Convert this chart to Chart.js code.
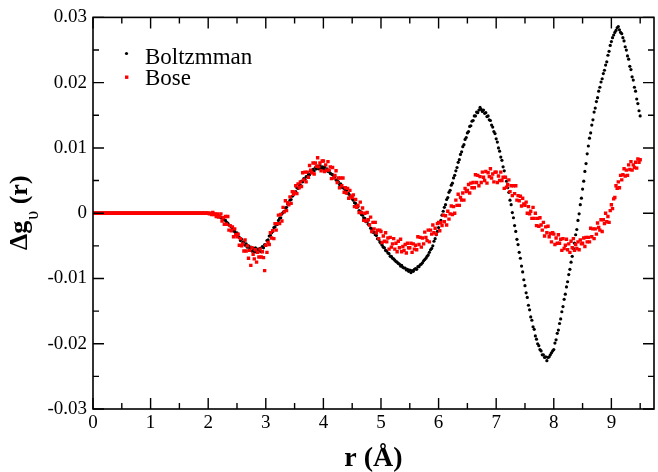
<!DOCTYPE html>
<html>
<head>
<meta charset="utf-8">
<script src="https://cdn.jsdelivr.net/npm/chart.js@4/dist/chart.umd.min.js"></script>
<style>
  html, body { margin: 0; padding: 0; background: #fff; }
  #wrap { width: 658px; height: 472px; }
</style>
</head>
<body>
<div id="wrap"><canvas id="c" width="658" height="472"></canvas></div>
<script>
// r grid: one sample every 0.02 Å starting at r = 0
const R_STEP = 0.02;
// Δg values below are listed in units of 1e-3
const Y_UNIT = 1e-3;

const seriesNames = ['Boltzmman', 'Bose'];

const boltzmann = [
  0,0,0,0,0,0,0,0,0,0,0,0,0,0,0,0,0,0,0,0,0,0,0,0,0,
  0,0,0,0,0,0,0,0,0,0,0,0,0,0,0,0,0,0,0,0,0,0,0,0,0,
  0,0,0,0,0,0,0,0,0,0,0,0,0,0,0,0,0,0,0,0,0,0,0,0,0,
  0,0,0,0,0,0,0,0,0,0,0,0,0,0,0,0,0,0,0,0,0,0,0,0,0,
  0,-0.02,-0.03,-0.05,-0.08, -0.1,-0.2,-0.2,-0.35,-0.4, -0.5,-0.7,-0.7,-0.95,-1.0, -1.1,-1.4,-1.5,-1.8,-1.9, -2.1,-2.2,-2.7,-2.8,-3.1,
  -3.0,-3.6,-3.7,-4.2,-4.0, -4.5,-4.4,-4.9,-4.7,-5.2, -5.0,-5.5,-5.2,-5.8,-5.4, -5.9,-5.3,-6.0,-5.5,-5.8, -5.4,-5.9,-5.1,-5.3,-4.8,
  -4.9,-4.2,-4.1,-3.5,-3.4, -3.0,-2.8,-2.2,-2.1,-1.7, -1.7,-1.1,-0.8,-0.7,-0.1, 0.1,0.3,0.8,0.9,1.4, 1.4,2.0,2.1,2.6,2.8,
  3.2,3.3,3.9,3.8,4.4, 4.3,4.9,4.8,5.3,5.2, 5.6,5.6,6.0,5.9,6.4, 6.2,6.7,6.5,7.0,6.8, 7.2,6.8,7.3,6.9,7.1,
  6.8,7.1,6.6,6.8,6.4, 6.5,6.1,6.0,5.9,5.5, 5.6,5.1,5.0,4.8,4.4, 4.5,4.0,3.9,3.8,3.4, 3.5,3.0,3.0,2.7,2.6,
  2.2,2.0,1.6,1.5,1.0, 1.0,0.4,0.3,-0.2,-0.3, -0.7,-0.8,-1.3,-1.3,-1.7, -1.8,-2.3,-2.4,-2.9,-2.9, -3.3,-3.4,-3.9,-4.0,-4.4,
  -4.6,-4.9,-5.2,-5.3,-5.7, -5.8,-6.1,-6.2,-6.6,-6.6, -6.9,-7.0,-7.2,-7.4,-7.5, -7.7,-7.8,-8.1,-8.0,-8.3, -8.4,-8.4,-8.7,-8.6,-8.9,
  -8.7,-9.1,-8.8,-8.9,-8.6, -8.5,-8.6,-8.2,-8.2,-7.9, -7.8,-7.6,-7.3,-7.1,-6.9, -6.6,-6.4,-6.0,-5.6,-5.4, -5.0,-4.3,-3.9,-3.3,-2.8,
  -2.2,-1.5,-1.1,-0.3,0.3, 0.9,1.3,2.1,2.4,3.2, 3.5,4.3,4.6,5.4,5.8, 6.5,7.0,7.8,8.2,9.0, 9.4,10.2,10.5,11.3,11.6,
  12.3,12.5,13.3,13.4,14.1, 14.2,14.9,14.9,15.5,15.4, 15.8,16.2,15.9,15.6,15.8, 15.3,15.4,14.8,14.9,14.3, 14.2,13.5,13.2,12.5,12.2,
  11.4,10.9,10.0,9.5,8.6, 8.1,7.1,6.5,5.5,4.9, 3.9,3.2,2.0,1.3,0.1, -0.7,-1.9,-2.8,-4.0,-4.8, -6.0,-6.9,-8.1,-9.0,-10.2,
  -11.1,-12.2,-12.9,-14.1,-14.8, -15.9,-16.4,-17.4,-17.8,-18.8, -19.3,-20.0,-20.3,-20.9,-21.1, -21.7,-21.7,-22.1,-22.0,-22.6, -22.1,-22.0,-21.7,-21.4,-21.1,
  -20.9,-19.9,-19.4,-18.4,-17.9, -16.9,-16.2,-15.1,-14.3,-13.2, -12.4,-11.3,-10.5,-9.4,-8.6, -7.5,-6.6,-5.4,-4.6,-3.3, -2.5,-1.1,-0.1,1.3,2.3,
  3.7,4.9,6.4,7.6,9.1, 10.3,11.5,12.3,13.5,14.3, 15.5,16.1,17.1,17.7,18.7, 19.3,20.1,20.6,21.4,21.9, 22.7,23.2,24.2,24.8,25.7,
  26.3,26.9,27.3,27.7,28.0, 28.4,28.6,28.1,27.7,27.5, 26.9,26.4,25.5,25.0,24.1, 23.6,22.5,22.0,20.9,20.4, 19.3,18.7,17.5,16.8,15.7,
  14.9
];

const bose = [
  0,0,0,0,0,0,0,0,0,0,0,0,0,0,0,0,0,0,0,0,0,0,0,0,0,
  0,0,0,0,0,0,0,0,0,0,0,0,0,0,0,0,0,0,0,0,0,0,0,0,0,
  0,0,0,0,0,0,0,0,0,0,0,0,0,0,0,0,0,0,0,0,0,0,0,0,0,
  0,0,0,0,0,0,0,0,0,0,0,0,0,0,0,0,0,0,0,0,0,0,0,0,0,
  0,-0.1,0,-0.2,0.1, -0.2,-0.1,-0.5,-0.1,-0.6, -0.5,-0.1,-1.2,-0.7,-1.7, -0.5,-1.7,-0.5,-2.6,-1.9, -2.7,-2.1,-3.6,-2.4,-3.3,
  -3.6,-3.2,-4.9,-3.9,-5.0, -4.7,-5.8,-4.1,-5.8,-5.0, -6.9,-5.7,-8.0,-5.3,-6.3, -7.0,-5.6,-7.5,-6.0,-6.7, -5.5,-6.7,-5.9,-6.8,-8.8,
  -4.9,-6.0,-4.5,-4.8,-3.0, -3.8,-2.7,-3.9,-1.6,-2.6, -1.6,-0.3,-1.6,-0.2,-1.2, 0.9,0.2,1.9,0.4,1.6, 1.3,2.5,1.5,3.3,2.9,
  3.2,4.2,3.0,4.5,3.9, 4.8,4.1,6.2,5.1,6.3, 4.8,6.3,5.5,7.3,6.6, 6.2,7.7,6.0,7.7,7.2, 8.5,7.1,7.7,6.5,8.0,
  8.0,6.4,7.4,6.6,7.9, 6.6,7.1,5.3,7.0,5.4, 5.8,6.5,4.7,5.4,3.9, 5.4,4.2,5.4,3.2,3.9, 3.1,3.8,2.3,3.5,2.6,
  2.4,2.8,1.0,2.1,0.9, 1.2,0.1,1.7,0.1,0.8, -1.1,0.0,-1.2,0.1,-1.0, -1.8,-0.6,-2.8,-1.4,-2.4, -1.4,-3.0,-2.6,-3.9,-2.6,
  -2.8,-4.5,-3.5,-4.3,-3.0, -4.4,-3.8,-5.5,-3.7,-5.2, -4.7,-3.9,-5.5,-4.6,-5.9, -4.3,-5.3,-4.0,-5.9,-5.1, -5.7,-4.8,-6.1,-4.6,-5.3,
  -5.3,-4.6,-6.0,-4.7,-5.5, -4.9,-5.6,-3.6,-4.8,-3.7, -5.2,-3.8,-4.7,-2.9,-3.7, -4.2,-2.6,-4.4,-2.6,-3.2, -1.8,-3.0,-2.3,-3.2,-1.6,
  -1.4,-2.7,-1.4,-1.9,-0.3, -1.3,-0.4,-1.8,0.3,-0.9, -0.1,1.1,-0.2,1.0,0.0, 2.0,1.2,2.9,1.2,2.4, 2.0,3.1,2.0,3.8,3.3,
  3.5,4.4,3.1,4.6,3.9, 4.7,3.9,5.9,4.7,5.8, 4.2,5.6,4.7,6.3,5.5, 5.0,6.4,4.6,6.2,5.6, 6.8,5.4,6.0,4.8,6.3,
  6.3,4.7,5.7,5.0,6.3, 5.0,5.5,3.8,5.5,4.0, 4.4,5.1,3.3,4.2,2.7, 4.2,3.0,4.2,2.0,2.7, 1.9,2.6,1.1,2.3,1.4,
  1.2,1.7,0.0,1.0,-0.1, 0.3,-0.8,0.9,-0.8,0.0, -1.9,-0.8,-2.0,-0.7,-1.8, -2.6,-1.4,-3.5,-2.1,-3.0, -2.0,-3.6,-3.1,-4.4,-3.0,
  -3.2,-4.8,-3.8,-4.6,-3.3, -4.6,-4.0,-5.7,-3.9,-5.4, -4.9,-4.0,-5.6,-4.7,-6.0, -4.3,-5.3,-3.9,-5.7,-4.8, -5.4,-4.4,-5.6,-4.1,-4.7,
  -4.6,-3.8,-5.1,-3.7,-4.4, -3.7,-4.4,-2.3,-3.6,-2.4, -3.9,-2.4,-3.2,-1.5,-2.2, -2.6,-1.0,-2.8,-1.0,-1.6, 0.0,-1.3,-0.5,-1.4,0.4,
  1.3,0.7,2.2,2.4,4.2, 3.8,4.8,3.9,5.8,5.1, 5.9,6.8,5.7,6.6,5.8, 7.4,6.7,7.9,6.6,7.4, 7.0,7.8,6.9,8.3,7.8,
  8.2
];

// axis ticks
const xMajorTicks = [0, 1, 2, 3, 4, 5, 6, 7, 8, 9];
const xMinorTicks = [0.5, 1.5, 2.5, 3.5, 4.5, 5.5, 6.5, 7.5, 8.5, 9.5];
const yMajorTicks = [-0.03, -0.02, -0.01, 0, 0.01, 0.02, 0.03];
const yMinorTicks = [-0.025, -0.015, -0.005, 0.005, 0.015, 0.025];

const SERIF = "'Liberation Serif', 'Times New Roman', serif";

const toPoints = arr => arr.map((v, i) => ({ x: i * R_STEP, y: v * Y_UNIT }));

// frame on all four sides with inward-pointing ticks
const frameTicks = {
  id: 'frameTicks',
  afterDatasetsDraw(chart) {
    const { ctx, chartArea: a, scales: { x, y } } = chart;
    ctx.save();
    ctx.strokeStyle = '#000';
    ctx.lineWidth = 1.6;
    ctx.strokeRect(a.left, a.top, a.right - a.left, a.bottom - a.top);
    ctx.lineWidth = 1.4;
    ctx.beginPath();
    const xt = (vals, len) => vals.forEach(v => {
      const px = x.getPixelForValue(v);
      if (px < a.left - 0.5 || px > a.right + 0.5) return;
      ctx.moveTo(px, a.bottom); ctx.lineTo(px, a.bottom - len);
      ctx.moveTo(px, a.top); ctx.lineTo(px, a.top + len);
    });
    const yt = (vals, len) => vals.forEach(v => {
      const py = y.getPixelForValue(v);
      ctx.moveTo(a.left, py); ctx.lineTo(a.left + len, py);
      ctx.moveTo(a.right, py); ctx.lineTo(a.right - len, py);
    });
    xt(xMajorTicks, 11); xt(xMinorTicks, 6);
    yt(yMajorTicks, 11); yt(yMinorTicks, 6);
    ctx.stroke();
    ctx.restore();
  }
};

// axis titles and legend
const annotations = {
  id: 'annotations',
  afterDraw(chart) {
    const { ctx, chartArea: a } = chart;
    ctx.save();
    ctx.fillStyle = '#000';
    ctx.textBaseline = 'alphabetic';

    // x title
    ctx.font = 'bold 28px ' + SERIF;
    ctx.textAlign = 'center';
    ctx.fillText('r (Å)', (a.left + a.right) / 2, 466);

    // y title, rotated, with subscript
    ctx.translate(27, 250);
    ctx.rotate(-Math.PI / 2);
    ctx.textAlign = 'left';
    ctx.font = 'bold 26px ' + SERIF;
    const main = 'Δg';
    ctx.fillText(main, 0, 0);
    let off = ctx.measureText(main).width + 1;
    ctx.font = '18px ' + SERIF;
    ctx.fillText('υ', off, 11);
    off += ctx.measureText('υ').width;
    ctx.font = 'bold 26px ' + SERIF;
    ctx.fillText(' (r)', off, 0);
    ctx.setTransform(1, 0, 0, 1, 0, 0);

    // legend
    ctx.font = '23px ' + SERIF;
    ctx.textAlign = 'left';
    ctx.fillStyle = '#000';
    ctx.beginPath(); ctx.arc(126.5, 53.5, 1.6, 0, Math.PI * 2); ctx.fill();
    ctx.fillText(seriesNames[0], 145, 63.5);
    ctx.fillStyle = '#ff0000';
    ctx.fillRect(125, 75.5, 3.4, 3.4);
    ctx.fillStyle = '#000';
    ctx.fillText(seriesNames[1], 145, 84.5);
    ctx.restore();
  }
};

new Chart(document.getElementById('c'), {
  type: 'scatter',
  data: {
    datasets: [
      {
        label: seriesNames[0],
        data: toPoints(boltzmann),
        pointStyle: 'circle',
        pointRadius: 1.6,
        pointBorderWidth: 0,
        backgroundColor: '#000',
        borderColor: '#000',
        order: 1
      },
      {
        label: seriesNames[1],
        data: toPoints(bose),
        pointStyle: 'rect',
        pointRadius: 2.4,
        pointBorderWidth: 0,
        backgroundColor: '#ff0000',
        borderColor: '#ff0000',
        order: 0
      }
    ]
  },
  options: {
    responsive: false,
    devicePixelRatio: 1,
    animation: false,
    events: [],
    layout: { padding: { top: 12, right: 1, left: 0, bottom: 0 } },
    plugins: { legend: { display: false }, tooltip: { enabled: false } },
    scales: {
      x: {
        type: 'linear',
        min: 0,
        max: 9.74,
        afterBuildTicks: s => { s.ticks = xMajorTicks.map(v => ({ value: v })); },
        afterFit: s => { s.height = 63; },
        grid: { display: false, drawTicks: false },
        border: { display: false },
        ticks: {
          color: '#000',
          font: { family: SERIF, size: 19 },
          padding: 3,
          maxRotation: 0,
          autoSkip: false,
          callback: v => String(v)
        }
      },
      y: {
        type: 'linear',
        min: -0.03,
        max: 0.03,
        afterBuildTicks: s => { s.ticks = yMajorTicks.map(v => ({ value: v })); },
        afterFit: s => { s.width = 93; },
        grid: { display: false, drawTicks: false },
        border: { display: false },
        ticks: {
          color: '#000',
          font: { family: SERIF, size: 19 },
          padding: 6,
          autoSkip: false,
          callback: v => (Math.abs(v) < 1e-9 ? '0' : v.toFixed(2))
        }
      }
    }
  },
  plugins: [frameTicks, annotations]
});
</script>
</body>
</html>
